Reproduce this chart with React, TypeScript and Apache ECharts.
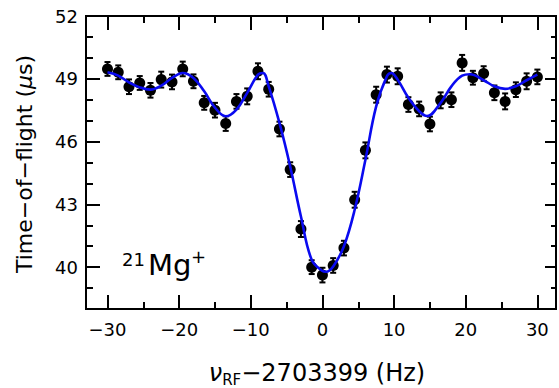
import React, { useEffect, useRef } from "react";
import * as echarts from "echarts";

const freq = [-30, -28.5, -27, -25.5, -24, -22.5, -21, -19.5, -18, -16.5, -15, -13.5, -12, -10.5, -9, -7.5, -6, -4.5, -3, -1.5, 0, 1.5, 3, 4.5, 6, 7.5, 9, 10.5, 12, 13.5, 15, 16.5, 18, 19.5, 21, 22.5, 24, 25.5, 27, 28.5, 30];
const tof = [49.47, 49.31, 48.62, 48.8, 48.45, 48.96, 48.85, 49.47, 48.88, 47.85, 47.5, 46.86, 47.92, 48.16, 49.36, 48.5, 46.6, 44.66, 41.82, 40.0, 39.62, 40.08, 40.91, 43.22, 45.58, 48.24, 49.2, 49.12, 47.77, 47.56, 46.84, 47.97, 48.0, 49.76, 49.05, 49.25, 48.33, 47.92, 48.48, 48.88, 49.09];
const tofErr = [0.33, 0.33, 0.35, 0.33, 0.35, 0.38, 0.35, 0.35, 0.33, 0.33, 0.35, 0.35, 0.35, 0.38, 0.38, 0.35, 0.35, 0.35, 0.38, 0.33, 0.35, 0.35, 0.35, 0.38, 0.38, 0.38, 0.38, 0.38, 0.35, 0.35, 0.35, 0.38, 0.35, 0.38, 0.33, 0.35, 0.35, 0.38, 0.35, 0.38, 0.35];
const fitFreq = [-30, -28.5, -27, -25.5, -24, -22.5, -21, -19.5, -18, -16.5, -15, -13.5, -12, -10.5, -9, -8.3, -7.5, -6, -4.5, -3, -1.5, 0, 0.5, 1.5, 3, 4.5, 6, 7.5, 9, 9.6, 10.5, 12, 13.5, 14.6, 16.5, 18, 19.5, 20.6, 22.5, 24, 25.5, 27, 28.5, 30];
const fitTof = [49.31, 49.15, 48.83, 48.59, 48.48, 48.67, 49.04, 49.28, 49.04, 48.4, 47.62, 47.21, 47.53, 48.33, 49.2, 49.28, 48.64, 46.89, 44.81, 42.42, 40.35, 39.82, 39.78, 40.03, 41.0, 42.74, 45.13, 47.68, 49.12, 49.28, 48.96, 48.09, 47.45, 47.22, 47.85, 48.64, 49.15, 49.22, 48.93, 48.64, 48.52, 48.64, 48.93, 49.2];
const xMajorTicks = [-30, -20, -10, 0, 10, 20, 30];
const xMinorTicks = [-25, -15, -5, 5, 15, 25];
const yMajorTicks = [40, 43, 46, 49, 52];
const yMinorTicks = [39, 41, 42, 44, 45, 47, 48, 50, 51];

const FONT = "'DejaVu Sans', 'Liberation Sans', Arial, sans-serif";
const X_MIN = -33;
const X_MAX = 32.6;
const Y_MIN = 38;
const Y_MAX = 52;

const fmt = (v: number) => (v < 0 ? "\u2212" + Math.abs(v) : String(v));

function axis(kind: "x" | "y", position: string, ticks: number[], len: number, labels: boolean) {
  return {
    type: "value",
    position,
    min: kind === "x" ? X_MIN : Y_MIN,
    max: kind === "x" ? X_MAX : Y_MAX,
    axisLine: { show: false, onZero: false },
    splitLine: { show: false },
    axisTick: {
      show: true,
      inside: true,
      length: len,
      customValues: ticks,
      lineStyle: { color: "#000", width: 2 },
    },
    axisLabel: {
      show: labels,
      customValues: ticks,
      formatter: fmt,
      fontSize: 18,
      fontFamily: FONT,
      color: "#000",
      margin: kind === "x" ? 11 : 8,
    },
  };
}

export default function App() {
  const ref = useRef<HTMLDivElement>(null);
  useEffect(() => {
    if (!ref.current) return;
    const chart = echarts.init(ref.current, undefined, { renderer: "svg" });
    const points = freq.map((f, i) => [f, tof[i]]);
    const bars = freq.map((f, i) => [f, tof[i] - tofErr[i], tof[i] + tofErr[i]]);
    const fit = fitFreq.map((f, i) => [f, fitTof[i]]);
    chart.setOption({
      animation: false,
      backgroundColor: "#fff",
      grid: {
        left: 86,
        right: 3,
        top: 16,
        bottom: 79,
        show: true,
        borderColor: "#000",
        borderWidth: 2,
        backgroundColor: "transparent",
        containLabel: false,
        outerBoundsMode: "none",
      },
      xAxis: [
        axis("x", "bottom", xMajorTicks, 14, true),
        axis("x", "bottom", xMinorTicks, 7, false),
        axis("x", "top", xMajorTicks, 14, false),
        axis("x", "top", xMinorTicks, 7, false),
      ],
      yAxis: [
        axis("y", "left", yMajorTicks, 14, true),
        axis("y", "left", yMinorTicks, 7, false),
        axis("y", "right", yMajorTicks, 11, false),
        axis("y", "right", yMinorTicks, 5, false),
      ],
      series: [
        {
          type: "custom",
          xAxisIndex: 0,
          yAxisIndex: 0,
          data: bars,
          encode: { x: 0, y: [1, 2] },
          z: 2,
          renderItem: (params: any, api: any) => {
            const x = api.value(0);
            const lo = api.coord([x, api.value(1)]);
            const hi = api.coord([x, api.value(2)]);
            const w = 3;
            const st = { stroke: "#000", lineWidth: 2 };
            return {
              type: "group",
              children: [
                { type: "line", shape: { x1: lo[0], y1: lo[1], x2: hi[0], y2: hi[1] }, style: st },
                { type: "line", shape: { x1: lo[0] - w, y1: lo[1], x2: lo[0] + w, y2: lo[1] }, style: st },
                { type: "line", shape: { x1: hi[0] - w, y1: hi[1], x2: hi[0] + w, y2: hi[1] }, style: st },
              ],
            };
          },
        },
        {
          type: "scatter",
          xAxisIndex: 0,
          yAxisIndex: 0,
          data: points,
          symbol: "circle",
          symbolSize: 11,
          itemStyle: { color: "#000", opacity: 1 },
          z: 3,
        },
        {
          type: "line",
          xAxisIndex: 0,
          yAxisIndex: 0,
          data: fit,
          smooth: 0.4,
          showSymbol: false,
          symbol: "none",
          lineStyle: { color: "#0a0af0", width: 2.6 },
          z: 4,
        },
      ],
      graphic: [
        {
          type: "text",
          x: 122,
          y: 259.5,
          style: { text: "21", fontSize: 18, fontFamily: FONT, fill: "#000", align: "left", verticalAlign: "middle" },
        },
        {
          type: "text",
          x: 148,
          y: 264.5,
          style: { text: "Mg", fontSize: 29, fontFamily: FONT, fill: "#000", align: "left", verticalAlign: "middle" },
        },
        {
          type: "text",
          x: 191,
          y: 256,
          style: { text: "+", fontSize: 18, fontFamily: FONT, fill: "#000", align: "left", verticalAlign: "middle" },
        },
        {
          type: "text",
          x: 24,
          y: 164,
          rotation: Math.PI / 2,
          style: {
            text: "{a|Time\u2212of\u2212flight (}{b|\u03bc}{a|s)}",
            align: "center",
            verticalAlign: "middle",
            rich: {
              a: { fontSize: 22, fontFamily: FONT, fill: "#000" },
              b: { fontSize: 22, fontFamily: FONT, fontStyle: "italic", fill: "#000" },
            },
          },
        },
        {
          type: "text",
          x: 317,
          y: 373,
          style: {
            text: "{n|\u03bd}{s|RF}{a|\u22122703399 (Hz)}",
            align: "center",
            verticalAlign: "middle",
            rich: {
              n: { fontSize: 24, fontFamily: FONT, fontStyle: "italic", fill: "#000", lineHeight: 24 },
              s: { fontSize: 15, fontFamily: FONT, fill: "#000", lineHeight: 28, verticalAlign: "bottom" },
              a: { fontSize: 24, fontFamily: FONT, fill: "#000", lineHeight: 24 },
            },
          },
        },
      ],
    });
    return () => chart.dispose();
  }, []);
  return (
    <div
      ref={ref}
      style={{ position: "fixed", left: 0, top: 0, width: 559, height: 388, background: "#fff" }}
    />
  );
}
